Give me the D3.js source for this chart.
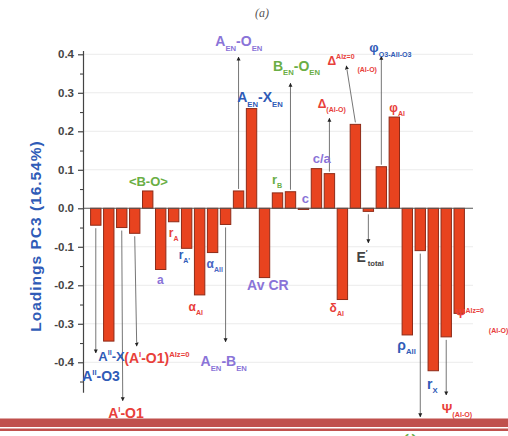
<!DOCTYPE html>
<html>
<head>
<meta charset="utf-8">
<script src="https://cdn.jsdelivr.net/npm/d3@7"></script>
<style>
  body { margin: 0; background: #fff; }
  svg { display: block; font-family: "Liberation Sans", Arial, sans-serif; font-weight: bold; }
</style>
</head>
<body>
<div id="chart"></div>
<script>
// parameters along the x axis (one bar each)
var categories = ["A''-X", "A''-O3", "A'-O1", "(A'-O1)Alz=0", "<B-O>", "a", "rA", "rA'", "αAl", "αAll",
  "AEN-BEN", "AEN-OEN", "AEN-XEN", "Av CR", "rB", "BEN-OEN", "c", "c/a", "Δ(Al-O)", "δAl",
  "ΔAlz=0(Al-O)", "E'total", "φO3-All-O3", "φAl", "ρAll", "ωO-B-O", "rX", "Ψ(Al-O)", "ΨAlz=0(Al-O)"];
// PC3 loadings
var loadings = [-0.044, -0.345, -0.05, -0.065, 0.045, -0.159, -0.035, -0.104, -0.225, -0.115,
  -0.042, 0.045, 0.259, -0.18, 0.04, 0.043, -0.003, 0.103, 0.09, -0.237,
  0.218, -0.008, 0.108, 0.237, -0.329, -0.11, -0.422, -0.334, -0.273];
var yTicks = [-0.4, -0.3, -0.2, -0.1, 0.0, 0.1, 0.2, 0.3, 0.4];
var yMinorTicks = [-0.45, -0.35, -0.25, -0.15, -0.05, 0.05, 0.15, 0.25, 0.35];

var w = 508, h = 436;
var blue = "#2f5bb7", purple = "#8a74d8", red = "#e8403a", green = "#6aae45", gray = "#444";

var svg = d3.select("#chart").append("svg")
  .attr("width", w)
  .attr("height", h);

var x = d3.scaleBand()
  .domain(d3.range(categories.length))
  .range([88, 467])
  .padding(0.2);
var y = d3.scaleLinear()
  .domain([-0.478, 0.41])
  .range([392.3, 50.45]);
var xc = function(i) { return x(i) + x.bandwidth() / 2; };

// title
svg.append("text")
  .attr("x", 262).attr("y", 17)
  .attr("text-anchor", "middle")
  .attr("font-family", "'Liberation Serif', serif")
  .attr("font-style", "italic")
  .attr("font-weight", "normal")
  .attr("font-size", 12)
  .attr("fill", "#555")
  .text("(a)");

// faint grid
svg.append("g").selectAll("line")
  .data(yTicks.filter(function(d) { return d !== 0; }))
  .enter().append("line")
  .attr("x1", 84).attr("x2", 473)
  .attr("y1", function(d) { return y(d); })
  .attr("y2", function(d) { return y(d); })
  .attr("stroke", "#ebebeb")
  .attr("stroke-width", 1);

// arrow marker
svg.append("defs").append("marker")
  .attr("id", "head")
  .attr("viewBox", "0 0 10 10")
  .attr("refX", 9).attr("refY", 5)
  .attr("markerWidth", 4).attr("markerHeight", 5)
  .attr("markerUnits", "userSpaceOnUse")
  .attr("orient", "auto")
  .append("path")
  .attr("d", "M0,0L10,5L0,10Z")
  .attr("fill", "#222");

// leader arrows: bar index, value at the tip, shift of the tip
var arrows = [
  { bar: 0, to: -0.376, dx: 0 },
  { bar: 2, to: -0.5, dx: 1 },
  { bar: 3, to: -0.358, dx: 2 },
  { bar: 10, to: -0.347, dx: 0 },
  { bar: 11, to: 0.393, dx: 0 },
  { bar: 15, to: 0.325, dx: 0 },
  { bar: 18, to: 0.234, dx: 0 },
  { bar: 20, to: 0.37, dx: -9 },
  { bar: 21, to: -0.09, dx: 0 },
  { bar: 22, to: 0.395, dx: 0 },
  { bar: 25, to: -0.542, dx: 0 },
  { bar: 27, to: -0.485, dx: 0 }
];
svg.append("g").selectAll("line")
  .data(arrows)
  .enter().append("line")
  .attr("x1", function(d) { return xc(d.bar); })
  .attr("y1", function(d) { return y(loadings[d.bar]) + (d.to > 0 ? -2 : 3); })
  .attr("x2", function(d) { return xc(d.bar) + d.dx; })
  .attr("y2", function(d) { return y(d.to); })
  .attr("stroke", "#666")
  .attr("stroke-width", 0.9)
  .attr("marker-end", "url(#head)");

// bars
svg.append("g").selectAll("rect")
  .data(loadings)
  .enter().append("rect")
  .attr("x", function(d, i) { return x(i); })
  .attr("y", function(d) { return y(Math.max(0, d)); })
  .attr("width", x.bandwidth())
  .attr("height", function(d) { return Math.abs(y(d) - y(0)); })
  .attr("fill", "#e8431f")
  .attr("stroke", "#8e2b18")
  .attr("stroke-width", 1);

// zero line
svg.append("line")
  .attr("x1", 83).attr("x2", 473)
  .attr("y1", y(0)).attr("y2", y(0))
  .attr("stroke", "#555")
  .attr("stroke-width", 1.1);

// y axis
var yAxis = d3.axisLeft(y)
  .tickValues(yTicks)
  .tickSize(5)
  .tickSizeOuter(0)
  .tickPadding(4)
  .tickFormat(function(d) { return d.toFixed(1); });
var gy = svg.append("g")
  .attr("transform", "translate(83,0)")
  .call(yAxis);
gy.selectAll("text")
  .attr("font-size", 11.5)
  .attr("font-family", "'Liberation Sans', Arial, sans-serif")
  .attr("font-weight", "bold")
  .attr("fill", gray);
gy.selectAll("path, line").attr("stroke", gray).attr("stroke-width", 1.2);
svg.append("g")
  .attr("transform", "translate(83,0)")
  .call(d3.axisLeft(y).tickValues(yMinorTicks).tickSize(3).tickSizeOuter(0).tickFormat(""))
  .call(function(g) { g.select(".domain").remove(); })
  .selectAll("line").attr("stroke", gray).attr("stroke-width", 1.1);

// y axis title
svg.append("text")
  .attr("transform", "translate(41,236) rotate(-90)")
  .attr("text-anchor", "middle")
  .attr("font-size", 15.5)
  .attr("letter-spacing", 1)
  .attr("fill", blue)
  .text("Loadings PC3 (16.54%)");

// parameter labels: bar index, shift from bar centre, value of the baseline
var labels = [
  { bar: 0, dx: 2.5, v: -0.397, c: blue, s: 13, p: [["A"], ["II", "sup"], ["-X"]] },
  { bar: 1, dx: -26.6, v: -0.449, c: blue, s: 14, p: [["A"], ["II", "sup"], ["-O3"]] },
  { bar: 2, dx: -13.6, v: -0.545, c: red, s: 14, p: [["A"], ["I", "sup"], ["-O1"]] },
  { bar: 3, dx: -10.5, v: -0.402, c: red, s: 14, p: [["(A"], ["I", "sup"], ["-O1)"], ["Alz=0", "sup"]] },
  { bar: 4, dx: -18.8, v: 0.058, c: green, s: 13, p: [["<B-O>"]] },
  { bar: 5, dx: -3.8, v: -0.197, c: purple, s: 12, p: [["a"]] },
  { bar: 6, dx: -4.9, v: -0.075, c: red, s: 12, p: [["r"], ["A", "sub"]] },
  { bar: 7, dx: -8, v: -0.131, c: blue, s: 12, p: [["r"], ["A'", "sub"]] },
  { bar: 8, dx: -11, v: -0.267, c: red, s: 12, p: [["α"], ["Al", "sub"]] },
  { bar: 9, dx: -6, v: -0.155, c: "#4a66c4", s: 12, p: [["α"], ["All", "sub"]] },
  { bar: 10, dx: -25, v: -0.41, c: purple, s: 14, p: [["A"], ["EN", "sub"], ["-B"], ["EN", "sub"]] },
  { bar: 11, dx: -23.3, v: 0.421, c: purple, s: 14, p: [["A"], ["EN", "sub"], ["-O"], ["EN", "sub"]] },
  { bar: 12, dx: -14.3, v: 0.276, c: blue, s: 14, p: [["A"], ["EN", "sub"], ["-X"], ["EN", "sub"]] },
  { bar: 13, dx: -17.4, v: -0.212, c: purple, s: 14, p: [["Av CR"]] },
  { bar: 14, dx: -5.5, v: 0.063, c: green, s: 13, p: [["r"], ["B", "sub"]] },
  { bar: 15, dx: -17.5, v: 0.357, c: green, s: 14, p: [["B"], ["EN", "sub"], ["-O"], ["EN", "sub"]] },
  { bar: 16, dx: -1.6, v: 0.014, c: purple, s: 13, p: [["c"]] },
  { bar: 17, dx: -3.7, v: 0.118, c: purple, s: 13, p: [["c/a"]] },
  { bar: 18, dx: -11.7, v: 0.26, c: red, s: 12, p: [["Δ"], ["(Al-O)", "sub"]] },
  { bar: 19, dx: -12.8, v: -0.269, c: red, s: 12, p: [["δ"], ["Al", "sub"]] },
  { bar: 20, dx: -27.9, v: 0.373, c: red, s: 12, p: [["Δ"], ["Alz=0", "sup"]] },
  { bar: 20, dx: 2.1, v: 0.353, c: red, s: 7, p: [["(Al-O)"]] },
  { bar: 21, dx: -11.9, v: -0.139, c: gray, s: 14, p: [["E"], ["′", "sup"], ["total", "sub"]] },
  { bar: 22, dx: -12, v: 0.405, c: blue, s: 13, p: [["φ"], ["O3-All-O3", "sub"]] },
  { bar: 23, dx: -5, v: 0.25, c: red, s: 12, p: [["φ"], ["Al", "sub"]] },
  { bar: 24, dx: -10, v: -0.368, c: blue, s: 14, p: [["ρ"], ["All", "sub"]] },
  { bar: 25, dx: -16, v: -0.607, c: green, s: 14, p: [["ω"], ["O-B-O", "sub"]] },
  { bar: 26, dx: -6.3, v: -0.469, c: blue, s: 14, p: [["r"], ["X", "sub"]] },
  { bar: 27, dx: -4.4, v: -0.532, c: red, s: 13, p: [["Ψ"], ["(Al-O)", "sub"]] },
  { bar: 28, dx: -3.4, v: -0.285, c: red, s: 12, p: [["Ψ"], ["Alz=0", "sup"]] },
  { bar: 28, dx: 29.6, v: -0.324, c: red, s: 7, p: [["(Al-O)"]] }
];

var gl = svg.append("g");
labels.forEach(function(d) {
  var t = gl.append("text")
    .attr("x", xc(d.bar) + d.dx)
    .attr("y", y(d.v))
    .attr("fill", d.c)
    .attr("font-size", d.s);
  var shift = 0;
  d.p.forEach(function(part) {
    var target = part[1] === "sub" ? d.s * 0.32 : part[1] === "sup" ? -d.s * 0.45 : 0;
    t.append("tspan")
      .attr("dy", target - shift)
      .attr("font-size", part[1] ? Math.max(7, d.s * 0.55) : d.s)
      .text(part[0]);
    shift = target;
  });
});

// page rule at the bottom
svg.append("rect")
  .attr("x", 0).attr("y", 418.5)
  .attr("width", w).attr("height", 8.5)
  .attr("fill", "#c0504d");
svg.append("rect")
  .attr("x", 0).attr("y", 428.5)
  .attr("width", w).attr("height", 2.5)
  .attr("fill", "#c0504d");
</script>
</body>
</html>
